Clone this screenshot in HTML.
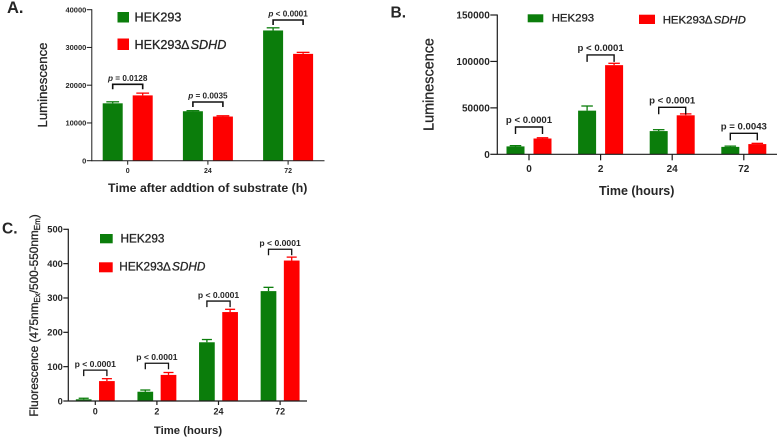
<!DOCTYPE html>
<html lang="en">
<head>
<meta charset="utf-8">
<title>Luminescence and fluorescence of HEK293 cells</title>
<style>
html,body{margin:0;padding:0;background:#fff;width:778px;height:437px;overflow:hidden}
svg{display:block;filter:blur(0.3px)}
text{font-family:"Liberation Sans",sans-serif;font-weight:bold;fill:#262626}
text.medium{font-weight:normal;stroke:#262626;stroke-width:0.3px}
</style>
</head>
<body>
<svg id="figure" xmlns="http://www.w3.org/2000/svg" width="778" height="437" viewBox="0 0 778 437">
  <rect width="778" height="437" fill="#fff"/>

  <text x="7" y="13" font-size="16.5">A.</text>
  <text x="390.5" y="17.5" font-size="15.5">B.</text>
  <text x="2" y="233.5" font-size="15.5">C.</text>

  <g>
    <rect x="117.5" y="12" width="11.5" height="10.5" fill="#0b7d0b"/>
    <text class="medium" x="134.5" y="21.5" font-size="12.6">HEK293</text>
    <rect x="117.5" y="38.5" width="11.5" height="11.5" fill="#fe0000"/>
    <text class="medium" x="134.5" y="49" font-size="12.6">HEK293∆<tspan font-style="italic" dx="1.5">SDHD</tspan></text>
  </g>
  <g>
    <rect x="527.7" y="14.3" width="15.6" height="8" fill="#0b7d0b"/>
    <text class="medium" x="551.7" y="21.7" font-size="11.4">HEK293</text>
    <rect x="639" y="14.7" width="16" height="9.3" fill="#fe0000"/>
    <text class="medium" x="662.7" y="23.3" font-size="11.4">HEK293∆<tspan font-style="italic" dx="1.5">SDHD</tspan></text>
  </g>
  <g>
    <rect x="100" y="234" width="12.7" height="9.3" fill="#0b7d0b"/>
    <text class="medium" x="120.5" y="242.3" font-size="11.8">HEK293</text>
    <rect x="99" y="262.3" width="13.7" height="10" fill="#fe0000"/>
    <text class="medium" x="119.3" y="270.7" font-size="11.8">HEK293∆<tspan font-style="italic" dx="1.5">SDHD</tspan></text>
  </g>

  <text x="207.7" y="192" font-size="12.3" text-anchor="middle">Time after addtion of substrate (h)</text>
  <text class="medium" transform="translate(47,85) rotate(-90)" font-size="13.2" text-anchor="middle">Luminescence</text>
  <text x="636.7" y="195" font-size="12.5" text-anchor="middle">Time (hours)</text>
  <text class="medium" transform="translate(433.5,84.5) rotate(-90)" font-size="14.4" text-anchor="middle">Luminescence</text>
  <text x="188" y="434" font-size="11.3" text-anchor="middle">Time (hours)</text>
  <text class="medium" transform="translate(38,315.5) rotate(-90)" font-size="11.8" text-anchor="middle">Fluorescence (475nm<tspan font-size="8" dy="2">Ex</tspan><tspan dy="-2">/500-550nm</tspan><tspan font-size="8" dy="2">Em</tspan><tspan dy="-2">)</tspan></text>
</svg>

<script>
// Panel A data
const categoriesA = ['0', '24', '72'];
const controlA = [15200, 13100, 34500];
const controlErrA = [400, 150, 700];
const mutantA = [17300, 11700, 28300];
const mutantErrA = [600, 200, 400];
const ticksA = ['0', '10000', '20000', '30000', '40000'];
const pLabelsA = ['= 0.0128', '= 0.0035', '< 0.0001'];
const bracketsA = [20240, 15550, 37270];

// Panel B data
const categoriesB = ['0', '2', '24', '72'];
const controlB = [8500, 47000, 25000, 8000];
const controlErrB = [800, 5000, 1500, 800];
const mutantB = [17000, 96000, 42000, 11000];
const mutantErrB = [800, 2000, 1500, 800];
const ticksB = ['0', '50000', '100000', '150000'];
const pLabelsB = ['< 0.0001', '< 0.0001', '< 0.0001', '= 0.0043'];
const bracketsB = [29400, 107000, 50600, 22600];

// Panel C data
const categoriesC = ['0', '2', '24', '72'];
const controlC = [5, 27, 171, 320];
const controlErrC = [3, 5, 8, 11];
const mutantC = [58, 76, 259, 409];
const mutantErrC = [7, 7, 8, 10];
const ticksC = ['0', '100', '200', '300', '400', '500'];
const pLabelsC = ['< 0.0001', '< 0.0001', '< 0.0001', '< 0.0001'];
const bracketsC = [90, 110, 291, 442];

const NS = 'http://www.w3.org/2000/svg';
const figure = document.getElementById('figure');
const GREEN = '#0b7d0b';
const RED = '#fe0000';
const INK = '#1c1c1c';

function make(parent, tag, attrs, content) {
  const node = document.createElementNS(NS, tag);
  for (const key in attrs) node.setAttribute(key, attrs[key]);
  if (content !== undefined) node.textContent = content;
  parent.appendChild(node);
  return node;
}

function drawBar(parent, panel, group, cx, value, err, color, series, y) {
  const w = panel.barWidth;
  const g = make(parent, 'g', {});
  
  
  const bar = make(g, 'rect', { x: cx - w / 2, y: y(value), width: w, height: panel.yBase - y(value), fill: color });
  
  
  const stem = make(g, 'line', { x1: cx, x2: cx, y1: y(value), y2: y(value + err), stroke: color, 'stroke-width': 1.3 });
  
  
  const cap = make(g, 'line', { x1: cx - w * 0.32, x2: cx + w * 0.32, y1: y(value + err), y2: y(value + err), stroke: color, 'stroke-width': 1.3 });
  
  
}

function drawPanel(panel, categories, control, controlErr, mutant, mutantErr, ticks, pLabels, brackets) {
  const y = v => panel.yBase - (v / panel.yMax) * (panel.yBase - panel.yTop);
  const xc = i => panel.firstCenter + i * panel.step;
  const root = make(figure, 'g', {});
  
  

  categories.forEach((cat, i) => {
    drawBar(root, panel, cat, xc(i) - panel.offset, control[i], controlErr[i], GREEN, 'hek293', y);
    drawBar(root, panel, cat, xc(i) + panel.offset, mutant[i], mutantErr[i], RED, 'sdhd', y);
  });

  const yAxis = make(root, 'line', { x1: panel.xAxis, x2: panel.xAxis, y1: panel.yTop - 0.5, y2: panel.yBase + 0.5, stroke: INK, 'stroke-width': panel.axisWidth });
  
  
  const xAxis = make(root, 'line', { x1: panel.xAxis, x2: panel.xEnd, y1: panel.yBase, y2: panel.yBase, stroke: INK, 'stroke-width': panel.axisWidth });
  
  

  ticks.forEach(label => {
    const ty = y(Number(label));
    const mark = make(root, 'line', { x1: panel.xAxis - panel.tickLen, x2: panel.xAxis, y1: ty, y2: ty, stroke: INK, 'stroke-width': panel.axisWidth });
    
    
    const text = make(root, 'text', { x: panel.xAxis - panel.tickLen - 0.5, y: ty + panel.yFont * 0.35, 'font-size': panel.yFont, 'text-anchor': 'end' }, label);
    
    
  });

  categories.forEach((cat, i) => {
    const mark = make(root, 'line', { x1: xc(i), x2: xc(i), y1: panel.yBase, y2: panel.yBase + panel.tickLen - 1, stroke: INK, 'stroke-width': panel.axisWidth });
    
    
    const text = make(root, 'text', { x: xc(i), y: panel.xLabelY, 'font-size': panel.xFont, 'text-anchor': 'middle' }, cat);
    
    

    const top = y(brackets[i]);
    const left = xc(i) - panel.offset;
    const right = xc(i) + panel.offset;
    const bracket = make(root, 'path', {
      d: 'M' + left + ' ' + (top + panel.bracketDrop) + 'V' + top + 'H' + right + 'V' + (top + panel.bracketDrop),
      fill: 'none', stroke: '#111', 'stroke-width': panel.bracketWidth
    });
    
    
    const note = make(root, 'text', { x: xc(i), y: top - panel.pGap, 'font-size': panel.pFont, 'text-anchor': 'middle' });
    
    
    const letter = make(note, 'tspan', panel.pItalic ? { 'font-style': 'italic' } : {}, 'p');
    
    
    note.appendChild(document.createTextNode(' ' + pLabels[i]));
  });
}

drawPanel(
  { id: 'a', xAxis: 91.8, xEnd: 324.5, yBase: 160.7, yTop: 9.7, yMax: 40000, firstCenter: 127.7, step: 80.2, offset: 15, barWidth: 20,
    axisWidth: 1, tickLen: 5, yFont: 7.5, xFont: 7, xLabelY: 173, bracketDrop: 5, bracketWidth: 1.6, pGap: 3.5, pFont: 8.2, pItalic: true },
  categoriesA, controlA, controlErrA, mutantA, mutantErrA, ticksA, pLabelsA, bracketsA
);
drawPanel(
  { id: 'b', xAxis: 497.3, xEnd: 777, yBase: 154.3, yTop: 15, yMax: 150000, firstCenter: 529, step: 71.6, offset: 13.5, barWidth: 18,
    axisWidth: 1.2, tickLen: 7, yFont: 10, xFont: 10, xLabelY: 172, bracketDrop: 7, bracketWidth: 1.4, pGap: 4, pFont: 9.6, pItalic: false },
  categoriesB, controlB, controlErrB, mutantB, mutantErrB, ticksB, pLabelsB, bracketsB
);
drawPanel(
  { id: 'c', xAxis: 68.3, xEnd: 307, yBase: 401, yTop: 229.3, yMax: 500, firstCenter: 95.3, step: 61.6, offset: 11.6, barWidth: 15.7,
    axisWidth: 1.2, tickLen: 5, yFont: 9.3, xFont: 9, xLabelY: 414.5, bracketDrop: 6, bracketWidth: 1.3, pGap: 3, pFont: 8.6, pItalic: false },
  categoriesC, controlC, controlErrC, mutantC, mutantErrC, ticksC, pLabelsC, bracketsC
);
</script>
</body>
</html>
